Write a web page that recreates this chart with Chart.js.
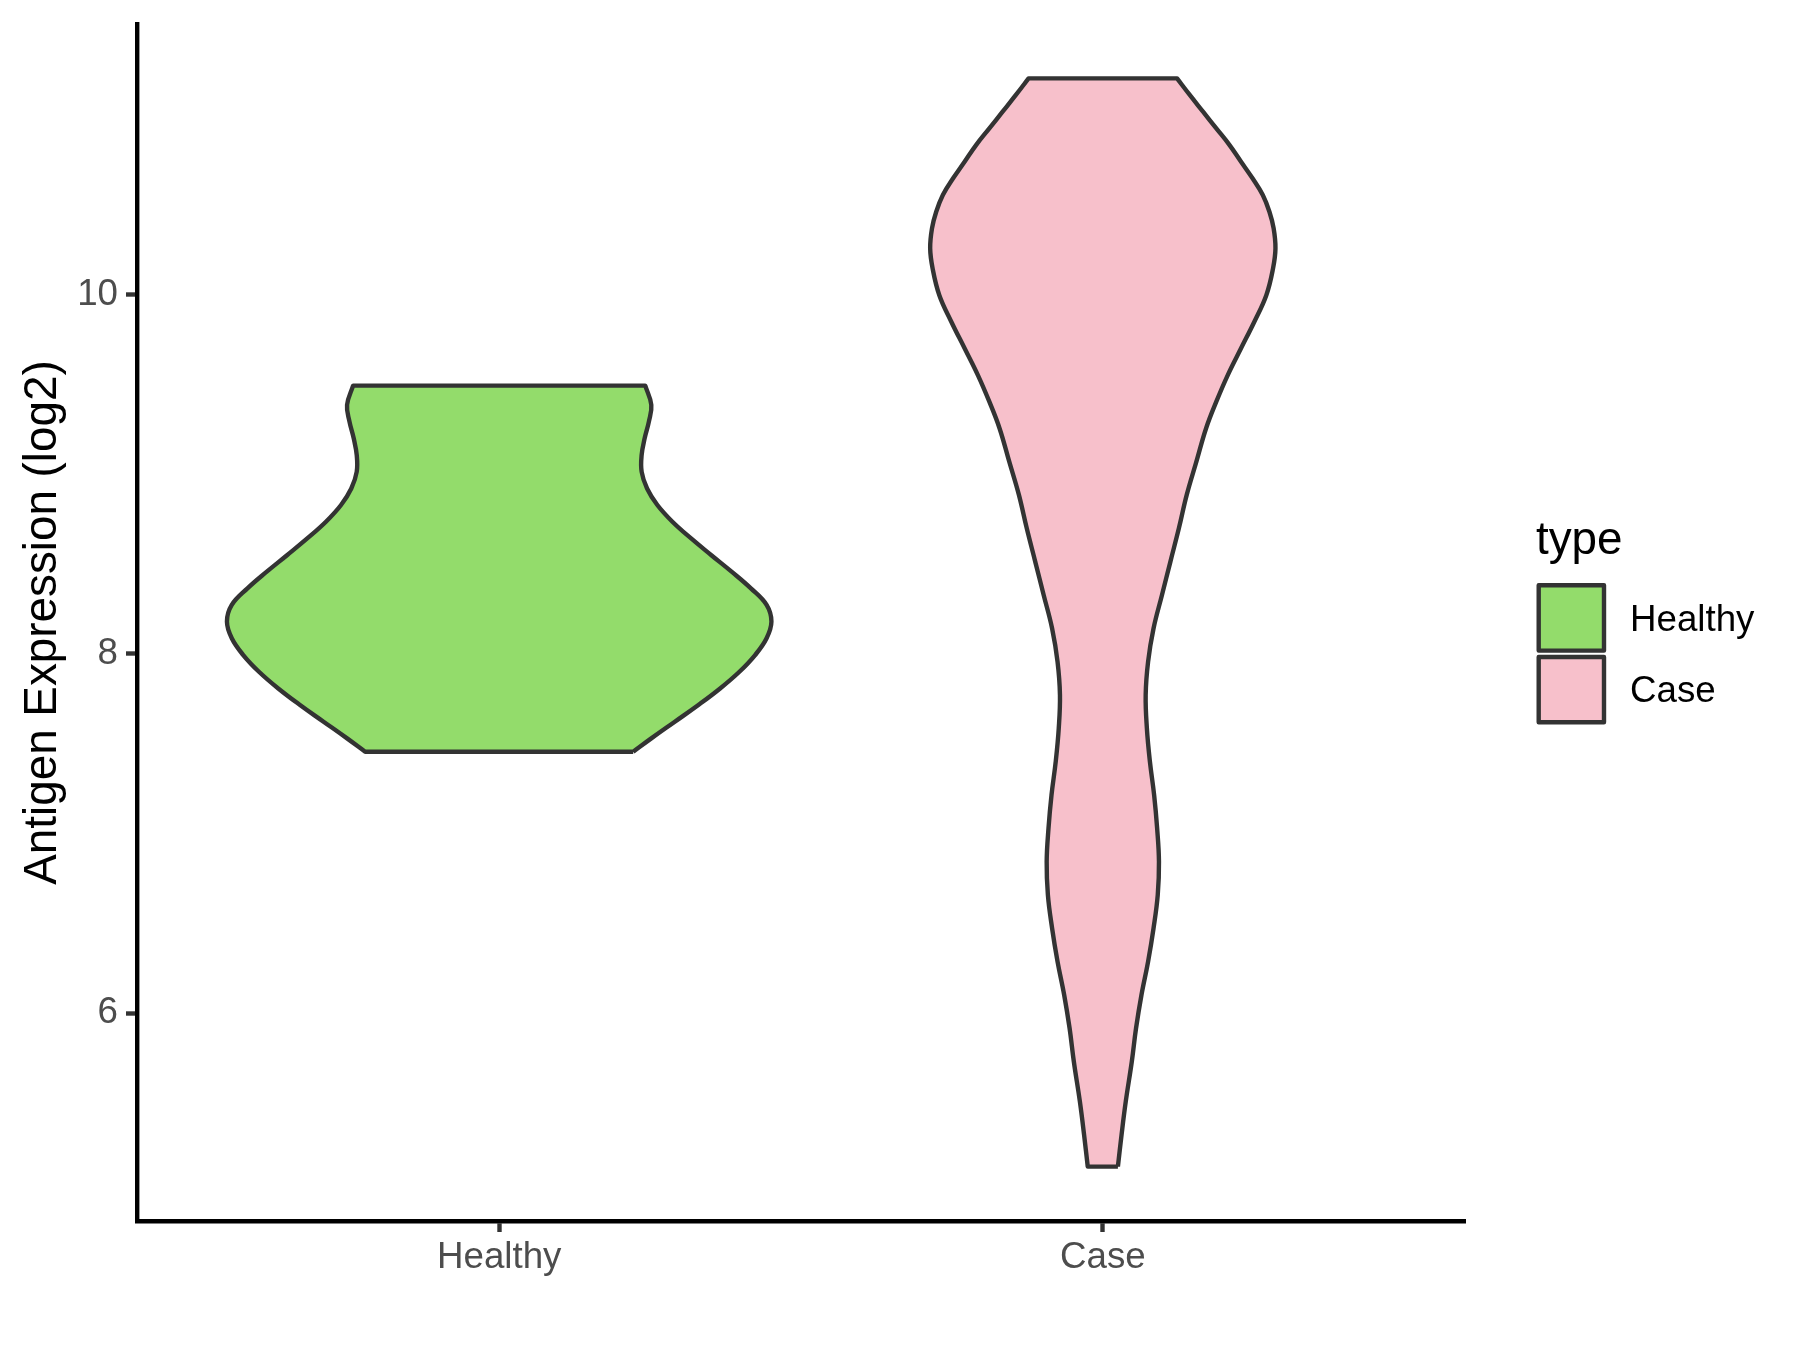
<!DOCTYPE html>
<html>
<head>
<meta charset="utf-8">
<script src="https://cdn.jsdelivr.net/npm/chart.js@4.4.1/dist/chart.umd.min.js"></script>
<style>
    html, body { margin: 0; padding: 0; background: #ffffff; }
    canvas { display: block; }
</style>
</head>
<body>
<canvas id="chart" width="1800" height="1350"></canvas>
<script>
const groups = ['Healthy', 'Case']

// density outline of each violin: expression level and half width (in category units)
const healthyLevels = [7.455, 7.529, 7.622, 7.715, 7.807, 7.900, 7.993, 8.086, 8.179, 8.272, 8.364, 8.457,
    8.550, 8.642, 8.735, 8.828, 8.920, 9.013, 9.106, 9.199, 9.292, 9.385, 9.492]
const healthyWidths = [0.222, 0.252, 0.291, 0.330, 0.366, 0.398, 0.424, 0.443, 0.451, 0.443, 0.417, 0.385,
    0.351, 0.318, 0.287, 0.262, 0.245, 0.236, 0.236, 0.241, 0.248, 0.252, 0.242]

const caseLevels = [5.146, 5.322, 5.508, 5.730, 5.915, 6.101, 6.287, 6.472, 6.658, 6.843, 7.028, 7.214,
    7.400, 7.585, 7.771, 7.956, 8.141, 8.327, 8.513, 8.698, 8.884, 9.069, 9.254, 9.403, 9.551, 9.700,
    9.848, 9.997, 10.145, 10.256, 10.367, 10.460, 10.553, 10.646, 10.738, 10.831, 10.924, 11.017, 11.110, 11.202]
const caseWidths = [0.025, 0.031, 0.038, 0.048, 0.055, 0.064, 0.075, 0.084, 0.091, 0.093, 0.090, 0.085,
    0.078, 0.073, 0.071, 0.075, 0.084, 0.098, 0.112, 0.126, 0.139, 0.155, 0.171, 0.188, 0.207, 0.229,
    0.251, 0.271, 0.282, 0.286, 0.283, 0.276, 0.265, 0.248, 0.229, 0.210, 0.188, 0.166, 0.144, 0.123]

const yTicks = [6, 8, 10]

const fillColors = ['#93DC6B', '#F7C0CB']
const outlineColor = '#333333'
const lineWidth = 4.4
const fontFamily = "'Liberation Sans', Arial, Helvetica, sans-serif"

function violinOutline(center, levels, widths) {
    const n = levels.length
    const right = levels.map((v, i) => ({x: center + widths[i], y: v}))
    const left = levels.map((v, i) => ({x: center - widths[i], y: v})).reverse()
    // corners repeated so the flat top and bottom stay straight with tension
    return [...right, right[n - 1], left[0], ...left, left[n - 1], right[0]]
}

const violins = [
    {levels: healthyLevels, widths: healthyWidths},
    {levels: caseLevels, widths: caseWidths}
]

const allLevels = healthyLevels.concat(caseLevels)
const yLow = Math.min(...allLevels)
const yHigh = Math.max(...allLevels)
const yPad = (yHigh - yLow) * 0.05

const typeLegend = {
    id: 'typeLegend',
    afterDraw(chart) {
        const ctx = chart.ctx
        ctx.save()
        ctx.textBaseline = 'alphabetic'
        ctx.textAlign = 'left'
        ctx.fillStyle = '#000000'
        ctx.font = `45.8px ${fontFamily}`
        ctx.fillText('type', 1536, 554)
        chart.data.datasets.forEach((ds, i) => {
            const top = 585.3 + i * 71.7
            ctx.fillStyle = ds.backgroundColor
            ctx.fillRect(1538.7, top, 65.3, 65.3)
            ctx.lineWidth = lineWidth
            ctx.lineJoin = 'round'
            ctx.strokeStyle = outlineColor
            ctx.strokeRect(1538.7, top, 65.3, 65.3)
            ctx.fillStyle = '#000000'
            ctx.font = `36.7px ${fontFamily}`
            ctx.fillText(ds.label, 1630, top + 45.2)
        })
        ctx.restore()
    }
}

function axisGrid() {
    return {
        drawOnChartArea: false,
        drawTicks: true,
        tickLength: 11,
        tickWidth: lineWidth,
        tickColor: outlineColor
    }
}

new Chart(document.getElementById('chart'), {
    type: 'line',
    data: {
        datasets: groups.map((g, i) => ({
            label: g,
            data: violinOutline(i + 1, violins[i].levels, violins[i].widths),
            backgroundColor: fillColors[i],
            borderColor: outlineColor,
            borderWidth: lineWidth,
            borderJoinStyle: 'round',
            fill: 'shape',
            tension: 0.4,
            pointRadius: 0,
            pointHoverRadius: 0
        }))
    },
    options: {
        responsive: false,
        animation: false,
        devicePixelRatio: 1,
        events: [],
        layout: {
            padding: {top: 24, right: 335, left: 0, bottom: 0}
        },
        plugins: {
            legend: {display: false},
            tooltip: {enabled: false}
        },
        scales: {
            x: {
                type: 'linear',
                min: 0.4,
                max: 2.6,
                afterBuildTicks: axis => {
                    axis.ticks = groups.map((g, i) => ({value: i + 1}))
                },
                afterFit: axis => {
                    axis.height = 129
                    axis.paddingLeft = 0
                    axis.paddingRight = 0
                },
                ticks: {
                    callback: v => groups[Math.round(v) - 1],
                    autoSkip: false,
                    maxRotation: 0,
                    padding: 4,
                    color: '#4D4D4D',
                    font: {size: 36.7, family: fontFamily}
                },
                grid: axisGrid(),
                border: {display: true, color: '#000000', width: lineWidth}
            },
            y: {
                type: 'linear',
                min: yLow - yPad,
                max: yHigh + yPad,
                afterBuildTicks: axis => {
                    axis.ticks = yTicks.map(v => ({value: v}))
                },
                afterFit: axis => {
                    axis.width = 137
                    axis.paddingTop = 0
                    axis.paddingBottom = 0
                },
                ticks: {
                    padding: 8,
                    color: '#4D4D4D',
                    font: {size: 36.7, family: fontFamily}
                },
                grid: axisGrid(),
                border: {display: true, color: '#000000', width: lineWidth},
                title: {
                    display: true,
                    text: 'Antigen Expression (log2)',
                    color: '#000000',
                    padding: {top: 16, bottom: 0},
                    font: {size: 45.8, family: fontFamily}
                }
            }
        }
    },
    plugins: [typeLegend]
})
</script>
</body>
</html>
